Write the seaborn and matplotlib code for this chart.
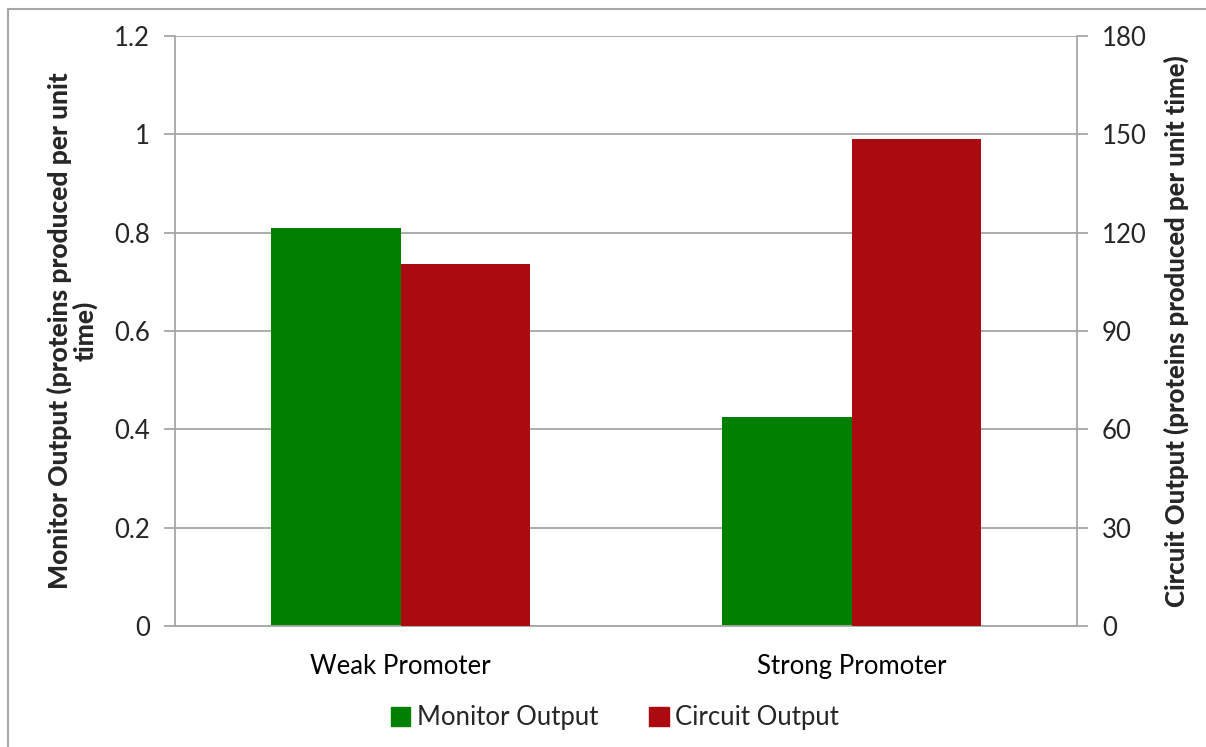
import matplotlib
matplotlib.use("Agg")
import matplotlib.pyplot as plt
import matplotlib.patches as mpatches
import pandas as pd
import seaborn as sns

# values
promoters = ["Weak Promoter", "Strong Promoter"]
series = ["Monitor Output", "Circuit Output"]
monitor_output = [0.81, 0.425]      # left axis
circuit_output = [110.3, 148.7]     # right axis
colors = {"Monitor Output": "#008000", "Circuit Output": "#AA0A10"}

left_ticks = [0, 0.2, 0.4, 0.6, 0.8, 1, 1.2]
left_ticklabels = ["0", "0.2", "0.4", "0.6", "0.8", "1", "1.2"]
right_ticks = [0, 30, 60, 90, 120, 150, 180]

sns.set_style("white")
plt.rcParams["font.family"] = ["Lato", "DejaVu Sans"]

df_mon = pd.DataFrame({"promoter": promoters, "value": monitor_output, "series": "Monitor Output"})
df_cir = pd.DataFrame({"promoter": promoters, "value": circuit_output, "series": "Circuit Output"})

fig = plt.figure(figsize=(12.06, 7.47), dpi=100)
ax = fig.add_axes([175 / 1206, 1 - 626 / 747, (1077 - 175) / 1206, (626 - 36) / 747])
ax2 = ax.twinx()

grid_c = "#a6a6a6"
for y in left_ticks:
    ax.axhline(y, color=grid_c, lw=1.3, zorder=0)

# each series on its own axis, dodged against the full hue order
sns.barplot(data=df_mon, x="promoter", y="value", hue="series", hue_order=series,
            order=promoters, palette=colors, width=0.576, dodge=True, ax=ax,
            errorbar=None, legend=False, saturation=1, linewidth=0, zorder=2)
sns.barplot(data=df_cir, x="promoter", y="value", hue="series", hue_order=series,
            order=promoters, palette=colors, width=0.576, dodge=True, ax=ax2,
            errorbar=None, legend=False, saturation=1, linewidth=0, zorder=2)

ax.set_xlim(-0.5, 1.5)
ax.set_ylim(0, 1.2)
ax2.set_ylim(0, 180)
ax.set_yticks(left_ticks)
ax.set_yticklabels(left_ticklabels)
ax2.set_yticks(right_ticks)

for a in (ax, ax2):
    for s in a.spines.values():
        s.set_visible(False)
ax.spines["left"].set_visible(True)
ax.spines["bottom"].set_visible(True)
ax2.spines["right"].set_visible(True)
for s in (ax.spines["left"], ax.spines["bottom"], ax2.spines["right"]):
    s.set_color(grid_c)
    s.set_linewidth(1.3)

fs = 18.5
ax.set_xticks([0, 1])
ax.set_xticklabels(promoters)
ax.set_xticks([-0.5, 0.5, 1.5], minor=True)
ax.tick_params(axis="x", which="major", length=0, pad=20, labelsize=fs, colors="black")
ax.tick_params(axis="x", which="minor", length=8, width=1.3, color=grid_c, direction="out")
ax.tick_params(axis="y", length=8, width=1.3, color=grid_c, labelsize=fs, pad=10, left=True)
ax2.tick_params(axis="y", length=8, width=1.3, color=grid_c, labelsize=fs, pad=10, right=True)

ax.set_xlabel("")
ax.set_ylabel("Monitor Output (proteins produced per unit\ntime)", fontsize=19,
              fontweight="black", labelpad=12, linespacing=1.0)
ax2.set_ylabel("Circuit Output (proteins produced per unit time)", fontsize=18.5,
               fontweight="black", labelpad=12)

handles = [mpatches.Patch(color=colors[s], label=s) for s in series]
fig.legend(handles=handles, loc="center", bbox_to_anchor=(615 / 1206, 1 - 718 / 747),
           ncol=2, frameon=False, fontsize=fs, handlelength=0.75, handleheight=0.75,
           handletextpad=0.25, columnspacing=2.0)

# outer chart border
fig.patches.append(mpatches.Rectangle((8 / 1206, -0.05), 1.1, 1 - 9 / 747 + 0.05,
                                      transform=fig.transFigure, fill=False,
                                      edgecolor="#a6a6a6", lw=1.5))

fig.savefig("out.png", dpi=100)
